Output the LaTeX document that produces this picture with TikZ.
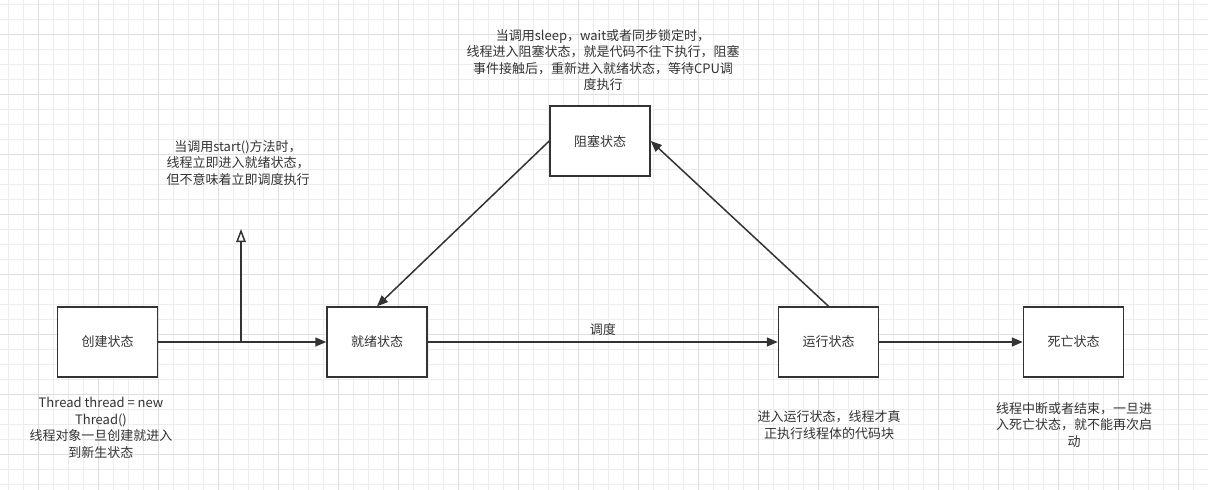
\documentclass[tikz,border=0pt]{standalone}
\usepackage{fontspec}
\setmainfont{Noto Sans CJK SC}
\usetikzlibrary{arrows.meta}
\definecolor{ink}{HTML}{333333}
\definecolor{gridminor}{HTML}{EDEDED}
\definecolor{gridmajor}{HTML}{DEDEDE}
\tikzset{
  statebox/.style={draw=ink, fill=white, line width=1.5pt, minimum width=100pt, minimum height=70pt, inner sep=0pt, text=ink, font=\fontsize{13}{16}\selectfont},
  note/.style={text=ink, align=center, inner sep=0pt, font=\fontsize{13}{16.5}\selectfont},
  conn/.style={draw=ink, line width=1.5pt, -{Triangle[length=11pt,width=9pt]}},
  openconn/.style={draw=ink, line width=1.5pt, -{Triangle[open,length=13pt,width=9.5pt,line width=1.5pt]}},
}
\begin{document}
\begin{tikzpicture}[x=1pt,y=-1pt]
\useasboundingbox (0,0) rectangle (1208,490);
\fill[white] (0,0) rectangle (1208,490);
% grid
\foreach \i in {0,...,80} {
  \pgfmathsetmacro{\xx}{8.3+15*\i}
  \draw[gridminor, line width=0.8pt] (\xx,0) -- (\xx,490);
}
\foreach \i in {0,...,32} {
  \pgfmathsetmacro{\yy}{4+15*\i}
  \draw[gridminor, line width=0.8pt] (0,\yy) -- (1208,\yy);
}
\foreach \i in {0,...,20} {
  \pgfmathsetmacro{\xx}{38.3+60*\i}
  \draw[gridmajor, line width=0.8pt] (\xx,0) -- (\xx,490);
}
\foreach \i in {0,...,8} {
  \pgfmathsetmacro{\yy}{34+60*\i}
  \draw[gridmajor, line width=0.8pt] (0,\yy) -- (1208,\yy);
}
% state boxes
\node[statebox] (create) at (107.5,342) {创建状态};
\node[statebox] (ready)  at (377,342)   {就绪状态};
\node[statebox] (block)  at (600,141)   {阻塞状态};
\node[statebox] (run)    at (828.5,342) {运行状态};
\node[statebox] (dead)   at (1073.5,342) {死亡状态};
% connectors
\draw[conn] (create) -- (ready);
\coordinate (split) at (241,342);
\coordinate (starttip) at (241,229);
\draw[openconn] (split) -- (starttip);
\draw[conn] (ready) -- node[note, above=6pt] {调度} (run);
\draw[conn] (run.north) -- (block.east);
\draw[conn] (block.west) -- (ready.north);
\draw[conn] (run) -- (dead);
% notes
\node[note] (n1) at (238,163) {当调用start()方法时，\\线程立即进入就绪状态，\\但不意味着立即调度执行};
\node[note] (n2) at (603,60) {当调用sleep，wait或者同步锁定时，\\线程进入阻塞状态，就是代码不往下执行，阻塞\\事件接触后，重新进入就绪状态，等待CPU调\\度执行};
\node[note] (n3) at (101,428) {Thread thread = new\\Thread()\\线程对象一旦创建就进入\\到新生状态};
\node[note] (n4) at (829,425) {进入运行状态，线程才真\\正执行线程体的代码块};
\node[note] (n5) at (1074,425) {线程中断或者结束，一旦进\\入死亡状态，就不能再次启\\动};
\end{tikzpicture}
\end{document}
